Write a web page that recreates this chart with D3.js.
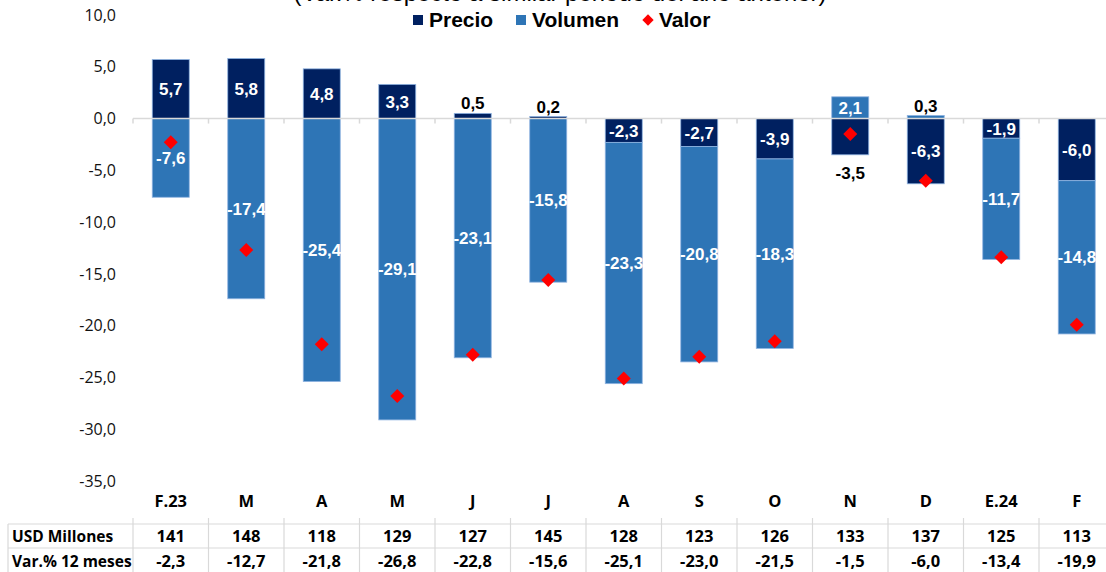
<!DOCTYPE html>
<html><head><meta charset="utf-8">
<script src="https://cdn.jsdelivr.net/npm/d3@7"></script>
<style>
html,body{margin:0;padding:0;background:#fff;}
svg{display:block;}
</style></head>
<body>
<svg id="chart" width="1106" height="572"></svg>
<script>
const categories = ["F.23","M","A","M","J","J","A","S","O","N","D","E.24","F"];
const precio  = [5.7, 5.8, 4.8, 3.3, 0.5, 0.2, -2.3, -2.7, -3.9, -3.5, -6.3, -1.9, -6.0];
const volumen = [-7.6, -17.4, -25.4, -29.1, -23.1, -15.8, -23.3, -20.8, -18.3, 2.1, 0.3, -11.7, -14.8];
const valor   = [-2.3, -12.7, -21.8, -26.8, -22.8, -15.6, -25.1, -23.0, -21.5, -1.5, -6.0, -13.4, -19.9];
const usdMillones = [141, 148, 118, 129, 127, 145, 128, 123, 126, 133, 137, 125, 113];
const yTicks = [10, 5, 0, -5, -10, -15, -20, -25, -30, -35];
const seriesNames = ["Precio", "Volumen", "Valor"];
const rowLabels = ["USD Millones", "Var.% 12 meses"];
const titleText = "(Var.% respecto a similar periodo del año anterior)";
// index of a Precio label shown below its bar (as in the original)
const precioLabelBelow = [9];

const colors = { Precio: "#002060", Volumen: "#2E75B6", Valor: "#FF0000" };
const loc = d3.formatLocale({decimal: ",", thousands: ".", grouping: [3], currency: ["", ""], minus: "-"});
const f1 = loc.format(".1f");

const svg = d3.select("#chart");
const W = 1106, H = 572;
const arial = "Liberation Sans, Arial, sans-serif";
const tf = "'Open Sans', Lato, sans-serif";

const x = d3.scaleBand().domain(d3.range(categories.length)).range([133, 1114.5]).paddingInner(0.51).paddingOuter(0.255);
const xc = d3.scaleBand().domain(d3.range(categories.length)).range([133, 1114.5]).padding(0);
const y = d3.scaleLinear().domain([-35, 10]).range([481, 15]);

// stacked data
const rows = categories.map((c, i) => ({i, Precio: precio[i], Volumen: volumen[i]}));
const stack = d3.stack().keys(["Precio", "Volumen"]).offset(d3.stackOffsetDiverging);
const stacked = stack(rows);

// title (cut at top as in the original)
svg.append("text").attr("x", 560).attr("y", 0.5).attr("text-anchor", "middle")
  .attr("font-family", arial).attr("font-size", 24).attr("fill", "#000").text(titleText);

// legend
const lg = svg.append("g").attr("font-family", arial).attr("font-weight", "bold").attr("font-size", 21);
const legendItems = [{name: "Precio", x: 413, tx: 429}, {name: "Volumen", x: 516, tx: 532}, {name: "Valor", x: 643, tx: 659}];
legendItems.forEach(it => {
  if (it.name === "Valor") {
    lg.append("path").attr("d", d3.symbol(d3.symbolSquare, 64)()).attr("transform", `translate(${it.x + 5},20) rotate(45)`).attr("fill", colors.Valor);
  } else {
    lg.append("rect").attr("x", it.x).attr("y", 15).attr("width", 10).attr("height", 10).attr("fill", colors[it.name]);
  }
  lg.append("text").attr("x", it.tx).attr("y", 27).attr("fill", "#000").text(it.name);
});

// y axis labels
const yAxis = d3.axisLeft(y).tickValues(yTicks).tickFormat(f1).tickSize(0).tickPadding(0);
const ya = svg.append("g").attr("transform", "translate(116,0)").call(yAxis);
ya.select(".domain").remove();
ya.selectAll("text").attr("font-family", tf).attr("font-size", 16).attr("fill", "#111");

// bars
const bg = svg.append("g");
stacked.forEach(s => {
  bg.selectAll(null).data(s).join("rect")
    .attr("x", d => x(d.data.i))
    .attr("width", x.bandwidth())
    .attr("y", d => y(Math.max(d[0], d[1])))
    .attr("height", d => Math.abs(y(d[0]) - y(d[1])))
    .attr("fill", colors[s.key])
    .attr("stroke", "#8fb3e0").attr("stroke-width", 0.8);
});

// zero line with ticks
const zg = svg.append("g").attr("transform", `translate(0,${y(0)})`);
zg.append("line").attr("x1", 133).attr("x2", W).attr("y1", 0).attr("y2", 0).attr("stroke", "#d9d9d9").attr("stroke-width", 1.5);
zg.selectAll(null).data(d3.range(categories.length + 1)).join("line")
  .attr("x1", i => 133 + i * xc.step()).attr("x2", i => 133 + i * xc.step())
  .attr("y1", 0).attr("y2", 5).attr("stroke", "#d9d9d9").attr("stroke-width", 1.5);

// data labels
const lbl = svg.append("g").attr("font-family", arial).attr("font-weight", "bold").attr("font-size", 17).attr("text-anchor", "middle");
stacked.forEach(s => {
  s.forEach(d => {
    const i = d.data.i, v = d.data[s.key];
    const cx = x(i) + x.bandwidth() / 2;
    const top = y(Math.max(d[0], d[1])), bot = y(Math.min(d[0], d[1]));
    let ty, fill = "#fff";
    if (Math.abs(v) < 1) { ty = top - 10; fill = "#000"; }
    else if (s.key === "Precio" && precioLabelBelow.includes(i)) { ty = bot + 18; fill = "#000"; }
    else ty = (top + bot) / 2;
    lbl.append("text").attr("x", cx).attr("y", ty).attr("dy", "0.36em").attr("fill", fill).text(f1(v));
  });
});

// valor diamonds
svg.append("g").selectAll("path").data(valor).join("path")
  .attr("d", d3.symbol(d3.symbolSquare, 98)())
  .attr("transform", (v, i) => `translate(${x(i) + x.bandwidth() / 2},${y(v)}) rotate(45)`)
  .attr("fill", colors.Valor);

// category labels
svg.append("g").selectAll("text").data(categories).join("text")
  .attr("x", (c, i) => xc(i) + xc.bandwidth() / 2).attr("y", 501).attr("dy", "0.36em")
  .attr("text-anchor", "middle").attr("font-family", tf).attr("font-weight", "bold").attr("font-size", 16.5).attr("fill", "#000").text(c => c);

// table
const tg = svg.append("g");
const lineC = "#d9d9d9";
[524, 548].forEach(yy => tg.append("line").attr("x1", 8).attr("x2", W).attr("y1", yy).attr("y2", yy).attr("stroke", lineC).attr("stroke-width", 1.2));
tg.append("line").attr("x1", 8).attr("x2", 8).attr("y1", 524).attr("y2", H).attr("stroke", lineC).attr("stroke-width", 1.2);
tg.selectAll(null).data(d3.range(categories.length + 1)).join("line")
  .attr("x1", i => 133 + i * xc.step()).attr("x2", i => 133 + i * xc.step())
  .attr("y1", 518).attr("y2", H).attr("stroke", lineC).attr("stroke-width", 1.2);
const rowY = [536, 561];
rowLabels.forEach((r, k) => tg.append("text").attr("x", 12).attr("y", rowY[k]).attr("dy", "0.36em")
  .attr("font-family", tf).attr("font-weight", "bold").attr("font-size", 15.5).attr("fill", "#000").text(r));
tg.selectAll(".usd").data(usdMillones).join("text").attr("class", "usd")
  .attr("x", (v, i) => xc(i) + xc.bandwidth() / 2).attr("y", rowY[0]).attr("dy", "0.36em").attr("text-anchor", "middle")
  .attr("font-family", tf).attr("font-weight", "bold").attr("font-size", 16.5).attr("fill", "#000").text(v => v);
tg.selectAll(".var").data(valor).join("text").attr("class", "var")
  .attr("x", (v, i) => xc(i) + xc.bandwidth() / 2).attr("y", rowY[1]).attr("dy", "0.36em").attr("text-anchor", "middle")
  .attr("font-family", tf).attr("font-weight", "bold").attr("font-size", 16.5).attr("fill", "#000").text(v => f1(v));
</script>
</body></html>
